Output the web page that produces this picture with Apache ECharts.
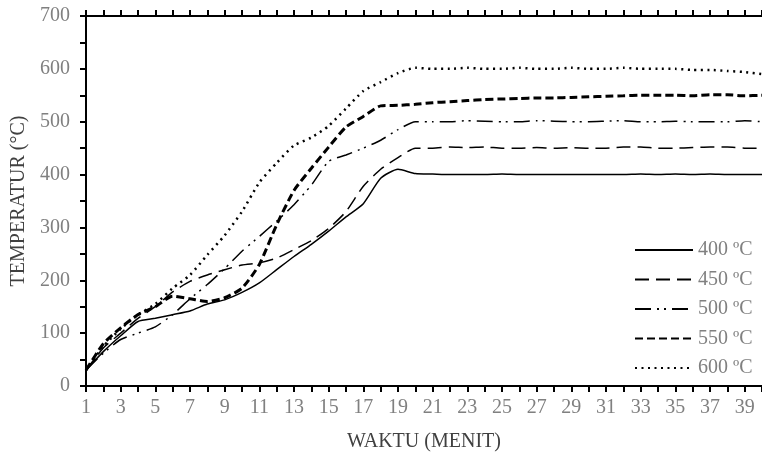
<!DOCTYPE html>
<html>
<head>
<meta charset="utf-8">
<script src="https://cdn.jsdelivr.net/npm/echarts/dist/echarts.min.js"></script>
<style>
  html, body { margin: 0; padding: 0; background: #fff; }
  #chart { width: 762px; height: 457px; }
</style>
</head>
<body>
<div id="chart"></div>
<script>
// menit 1..40
var minutes = [];
for (var i = 1; i <= 40; i++) minutes.push(String(i));

var t400 = [30, 65, 95, 122, 128, 135, 142, 155, 163, 177, 195, 220, 245, 268, 293, 320, 345, 393, 410, 402,
            401, 400, 400, 400, 401, 400, 400, 400, 400, 400, 400, 400, 401, 400, 401, 400, 401, 400, 400, 400];
var t450 = [30, 72, 100, 128, 150, 178, 198, 210, 220, 229, 233, 242, 258, 275, 298, 330, 378, 410, 432, 450,
            450, 452, 451, 452, 450, 450, 451, 450, 451, 450, 450, 452, 452, 450, 450, 451, 452, 452, 450, 450];
var t500 = [30, 62, 88, 100, 112, 135, 165, 192, 222, 255, 283, 312, 343, 380, 425, 437, 450, 465, 485, 500,
            500, 500, 502, 501, 500, 500, 502, 501, 500, 500, 501, 502, 500, 500, 501, 500, 500, 500, 502, 500];
var t550 = [30, 80, 110, 135, 150, 170, 165, 160, 167, 185, 230, 305, 370, 412, 452, 490, 510, 530, 531, 533,
            536, 538, 540, 542, 543, 544, 545, 545, 546, 547, 548, 549, 550, 550, 550, 549, 551, 551, 549, 550];
var t600 = [30, 75, 108, 135, 155, 185, 210, 248, 285, 330, 385, 422, 455, 470, 492, 525, 558, 575, 592, 602,
            600, 600, 602, 600, 600, 602, 600, 600, 602, 600, 600, 602, 600, 600, 600, 598, 598, 596, 594, 590];

var font = '"Liberation Serif", "Times New Roman", serif';
var grey = '#808080';

function line(name, data, width, dash) {
  return {
    name: name,
    type: 'line',
    data: data,
    symbol: 'none',
    smooth: 0.2,
    itemStyle: { color: '#000' },
    lineStyle: { color: '#000', width: width, type: dash }
  };
}

var chart = echarts.init(document.getElementById('chart'));
chart.setOption({
  animation: false,
  textStyle: { fontFamily: font },
  grid: { left: 86, top: 16, bottom: 67, right: -3 },
  legend: {
    orient: 'vertical',
    left: 634,
    top: 239,
    padding: 0,
    itemWidth: 58,
    itemHeight: 14,
    itemGap: 7.5,
    itemStyle: { opacity: 0 },
    textStyle: { fontFamily: font, fontSize: 20, lineHeight: 22, color: grey },
    data: ['400 ºC', '450 ºC', '500 ºC', '550 ºC', '600 ºC']
  },
  xAxis: [{
    type: 'category',
    data: minutes,
    boundaryGap: false,
    name: 'WAKTU (MENIT)',
    nameLocation: 'middle',
    nameGap: 46,
    nameTextStyle: { fontFamily: font, fontSize: 20, color: '#404040' },
    axisLine: { lineStyle: { color: '#000', width: 2 } },
    axisTick: { interval: 0, length: 6, lineStyle: { color: '#000', width: 2 } },
    axisLabel: { interval: 1, margin: 12, fontFamily: font, fontSize: 20, color: grey },
    splitLine: { show: false }
  }, {
    type: 'category',
    data: minutes,
    boundaryGap: false,
    position: 'top',
    axisLine: { lineStyle: { color: '#000', width: 2 } },
    axisTick: { interval: 0, length: 6, lineStyle: { color: '#000', width: 2 } },
    axisLabel: { show: false },
    splitLine: { show: false }
  }],
  yAxis: {
    type: 'value',
    min: 0,
    max: 700,
    interval: 50,
    name: 'TEMPERATUR (°C)',
    nameLocation: 'middle',
    nameGap: 56,
    nameTextStyle: { fontFamily: font, fontSize: 20, color: '#404040' },
    axisLine: { show: true, lineStyle: { color: '#000', width: 2 } },
    axisTick: { show: true, length: 6, lineStyle: { color: '#000', width: 2 } },
    axisLabel: {
      margin: 16, fontFamily: font, fontSize: 20, color: grey,
      formatter: function (v) { return v % 100 === 0 ? String(v) : ''; }
    },
    splitLine: { show: false }
  },
  series: [
    line('400 ºC', t400, 1.5, 'solid'),
    line('450 ºC', t450, 1.5, [14, 7]),
    line('500 ºC', t500, 1.5, [16, 6, 2, 5, 2, 6]),
    line('550 ºC', t550, 3, [8, 4]),
    line('600 ºC', t600, 2.5, [2, 4.5])
  ]
});
</script>
</body>
</html>
